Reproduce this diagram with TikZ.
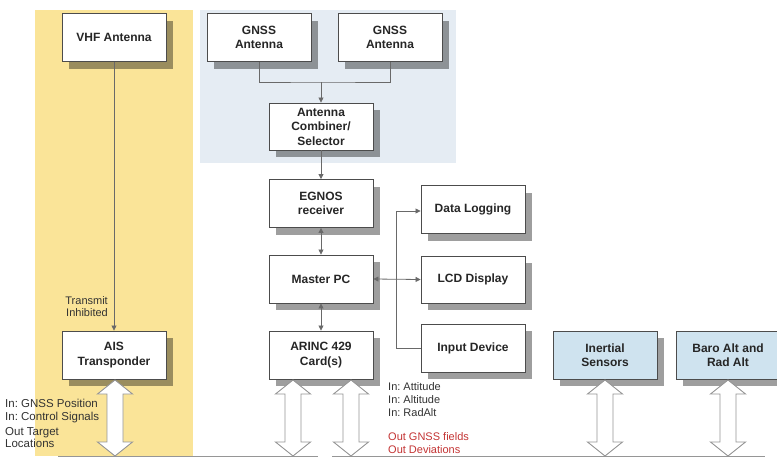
\documentclass[tikz,border=0pt]{standalone}
\usepackage{fontspec}
\setmainfont{Liberation Sans}
\usetikzlibrary{arrows.meta,shadows}
\frenchspacing
\definecolor{bandyellow}{RGB}{250,228,152}
\definecolor{bandblue}{RGB}{229,236,243}
\definecolor{boxblue}{RGB}{207,227,239}
\definecolor{linegrey}{RGB}{105,105,105}
\definecolor{blockgrey}{RGB}{150,150,150}
\definecolor{outred}{RGB}{196,52,52}
\newcommand\dblarrow[3]{%
  \draw[blockarrow] (#1,#2) -- ++(17.5,14) -- ++(-9.5,0) -- (#1+8,#3-14) -- ++(9.5,0)
    -- (#1,#3) -- ++(-17.5,-14) -- ++(9.5,0) -- (#1-8,#2+14) -- ++(-9.5,0) -- cycle;}
\tikzset{
  unitbox/.style={draw=black!70, line width=0.9pt, fill=white, minimum width=104pt,
    minimum height=48pt, inner sep=1pt, align=center, text=black!85,
    font=\fontsize{12}{14.5}\selectfont\bfseries,
    drop shadow={shadow xshift=7pt, shadow yshift=-7pt, fill=black, opacity=0.38}},
  sensorbox/.style={unitbox, fill=boxblue},
  conn/.style={draw=linegrey, line width=0.8pt},
  tip/.style={-{Triangle[length=5pt,width=5pt]}},
  dtip/.style={{Triangle[length=5pt,width=5pt]}-{Triangle[length=5pt,width=5pt]}},
  blockarrow/.style={draw=blockgrey, line width=0.9pt, fill=white},
  lbl/.style={font=\fontsize{11}{12.5}\selectfont, text=black!80, inner sep=0pt, align=left}
}
\begin{document}
\begin{tikzpicture}[x=1pt,y=-1pt]
\useasboundingbox (0,0) rectangle (777,461);
\fill[white] (0,0) rectangle (777,461);
% background bands
\fill[bandyellow] (35,10) rectangle (193,456);
\fill[bandblue] (200,10) rectangle (456,163);
% boxes
\node[unitbox] (vhf) at (114,37.5) {VHF Antenna};
\node[unitbox] (gnss1) at (259,37.5) {GNSS\\Antenna};
\node[unitbox] (gnss2) at (390,37.5) {GNSS\\Antenna};
\node[unitbox, minimum height=47pt] (comb) at (321,126.5) {Antenna\\Combiner/\\Selector};
\node[unitbox] (egnos) at (321,203.5) {EGNOS\\receiver};
\node[unitbox] (master) at (321,279) {Master PC};
\node[unitbox] (arinc) at (321,355) {ARINC 429\\Card(s)};
\node[unitbox] (dlog) at (473,209.5) {Data Logging};
\node[unitbox, minimum height=47pt] (lcd) at (473,279.5) {LCD Display};
\node[unitbox] (input) at (473,348) {Input Device};
\node[unitbox] (ais) at (114,355) {AIS\\Transponder};
\node[sensorbox] (ins) at (605,355) {Inertial\\Sensors};
\node[sensorbox] (baro) at (728,355) {Baro Alt and\\Rad Alt};
% connectors
\draw[conn, tip] (vhf.south) -- (ais.north);
\coordinate (join) at (321,82);
\draw[conn] (gnss1.south) |- (join) -| (gnss2.south);
\draw[conn, tip] (join) -- (comb.north);
\draw[conn, tip] (comb.south) -- (egnos.north);
\draw[conn, dtip] (egnos.south) -- (master.north);
\draw[conn, dtip] (master.south) -- (arinc.north);
\draw[conn, dtip] (master.east) -- (lcd.west);
\coordinate (bus) at (396,211);
\draw[conn, tip] (bus) -- (bus -| dlog.west);
\draw[conn] (bus) |- (input.west);
% bottom bus line
\coordinate (l0) at (58,456);
\coordinate (l1) at (318,456);
\coordinate (l2) at (332,456);
\coordinate (l3) at (765,456);
\draw[draw=blockgrey, line width=0.9pt] (l0) -- (l1);
\draw[draw=blockgrey, line width=0.9pt] (l2) -- (l3);
% block arrows
\dblarrow{115}{380}{456}
\dblarrow{293}{380}{456}
\dblarrow{351}{380}{456}
\dblarrow{605}{380}{456}
\dblarrow{728}{380}{456}
% labels
\node[lbl, align=right, anchor=east] (ti) at (108,306.5) {Transmit\\Inhibited};
\node[lbl, anchor=west, font=\fontsize{11.5}{12.5}\selectfont] (aisin) at (5,411) {In: GNSS Position\\In: Control Signals};
\node[lbl, anchor=west, font=\fontsize{11.5}{12.5}\selectfont] (aisout) at (5,437.5) {Out Target\\Locations};
\node[lbl, anchor=west, font=\fontsize{11}{13}\selectfont] (arin) at (388,399.5) {In: Attitude\\In: Altitude\\In: RadAlt};
\node[lbl, anchor=west, text=outred, font=\fontsize{11}{13}\selectfont] (arout) at (388,443.5) {Out GNSS fields\\Out Deviations};
\end{tikzpicture}
\end{document}
